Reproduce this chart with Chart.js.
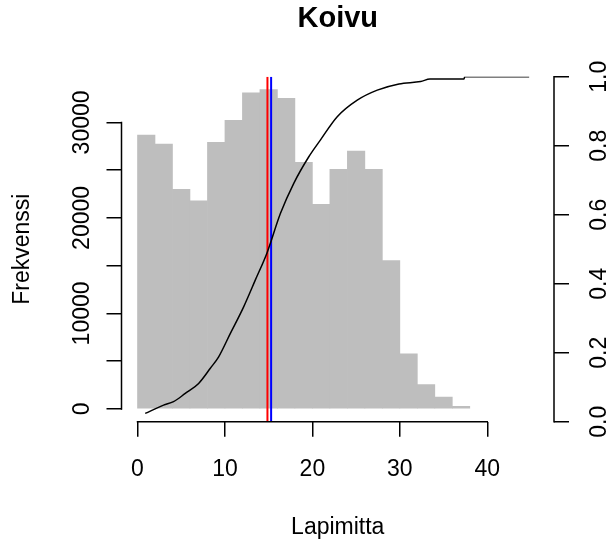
<!DOCTYPE html>
<html>
<head>
<meta charset="utf-8">
<script src="https://cdn.jsdelivr.net/npm/chart.js@4.4.1/dist/chart.umd.min.js"></script>
<style>
  html, body { margin: 0; padding: 0; background: #fff; }
  #wrap { width: 615px; height: 545px; }
</style>
</head>
<body>
<div id="wrap"><canvas id="koivu" width="615" height="545"></canvas></div>
<script>
// histogram: bin left edges (width 2) and counts
const binStart = [0, 2, 4, 6, 8, 10, 12, 14, 16, 18, 20, 22, 24, 26, 28, 30, 32, 34, 36];
const counts = [28670, 27730, 23000, 21800, 27910, 30210, 33090, 33450, 32510, 25820,
                21430, 25090, 27000, 25090, 15530, 5780, 2540, 1250, 270];

// cumulative share curve (right axis)
const cumX = [0.88, 2.98, 4.12, 5.46, 6.99, 8.33, 9.28, 10.62, 12.14, 13.48, 14.82, 16.35,
              17.87, 19.59, 20.93, 22.84, 25.13, 27.42, 29.9, 32.38, 33.45, 37.34, 37.42, 44.79];
const cumY = [0.024, 0.048, 0.058, 0.082, 0.111, 0.155, 0.188, 0.256, 0.333, 0.411, 0.49, 0.604,
              0.691, 0.768, 0.817, 0.884, 0.932, 0.961, 0.979, 0.986, 0.993, 0.993, 1.0, 1.0];

const medianD = 14.86;
const meanD = 15.28;

const xTicks = [0, 10, 20, 30, 40];
const yTicks = [0, 5000, 10000, 15000, 20000, 25000, 30000];
const y2Ticks = [0, 0.2, 0.4, 0.6, 0.8, 1];

Chart.defaults.font.family = "'Liberation Sans', Arial, sans-serif";
Chart.defaults.font.size = 23;
Chart.defaults.color = '#000';

// R style axis lines: only from first to last tick
const rAxes = {
  id: 'rAxes',
  afterDraw(chart) {
    const { ctx, chartArea: a, scales } = chart;
    ctx.save();
    ctx.strokeStyle = '#000';
    ctx.lineWidth = 1.5;
    ctx.lineCap = 'square';
    ctx.beginPath();
    ctx.moveTo(scales.x.getPixelForValue(xTicks[0]), a.bottom);
    ctx.lineTo(scales.x.getPixelForValue(xTicks[xTicks.length - 1]), a.bottom);
    ctx.moveTo(a.left, scales.y.getPixelForValue(yTicks[0]));
    ctx.lineTo(a.left, scales.y.getPixelForValue(yTicks[yTicks.length - 1]));
    ctx.moveTo(a.right, scales.y2.getPixelForValue(y2Ticks[0]));
    ctx.lineTo(a.right, scales.y2.getPixelForValue(y2Ticks[y2Ticks.length - 1]));
    ctx.stroke();
    ctx.restore();
  }
};

const tickGrid = { drawOnChartArea: false, offset: false, color: '#000', lineWidth: 1.5, tickLength: 15 };

new Chart(document.getElementById('koivu'), {
  type: 'bar',
  data: {
    datasets: [
      {
        type: 'line',
        data: cumX.map((x, i) => ({ x: x, y: cumY[i] })),
        yAxisID: 'y2',
        borderColor: '#000',
        borderWidth: 1.5,
        pointRadius: 0,
        cubicInterpolationMode: 'monotone',
        order: 0
      },
      {
        type: 'line',
        data: [{ x: meanD, y: 0 }, { x: meanD, y: 1 }],
        yAxisID: 'y2',
        borderColor: '#0000FF',
        borderWidth: 2,
        pointRadius: 0,
        order: 1
      },
      {
        type: 'line',
        data: [{ x: medianD, y: 0 }, { x: medianD, y: 1 }],
        yAxisID: 'y2',
        borderColor: '#FF0000',
        borderWidth: 2,
        pointRadius: 0,
        order: 2
      },
      {
        type: 'bar',
        data: binStart.map((b, i) => ({ x: b + 1, y: counts[i] })),
        yAxisID: 'y',
        backgroundColor: '#BEBEBE',
        borderWidth: 0,
        barPercentage: 1,
        categoryPercentage: 1,
        order: 3
      }
    ]
  },
  options: {
    responsive: false,
    animation: false,
    layout: { padding: 0 },
    plugins: {
      legend: { display: false },
      tooltip: { enabled: false },
      title: {
        display: true,
        text: 'Koivu',
        fullSize: false,
        color: '#000',
        font: { size: 29, weight: 'bold' },
        padding: { top: 2, bottom: 39.9 }
      }
    },
    scales: {
      x: {
        type: 'linear',
        min: -1.83,
        max: 47.63,
        offset: false,
        border: { display: false },
        grid: tickGrid,
        ticks: { padding: 19.4, maxRotation: 0, autoSkip: false },
        afterBuildTicks: s => { s.ticks = xTicks.map(v => ({ value: v })); },
        afterFit: s => { s.height = 123.3; },
        title: { display: true, text: 'Lapimitta', padding: { top: 0, bottom: 4 } }
      },
      y: {
        position: 'left',
        min: -1338,
        max: 34786,
        border: { display: false },
        grid: tickGrid,
        ticks: {
          minRotation: 90, maxRotation: 90, crossAlign: 'center', padding: -8.5, autoSkip: false,
          callback: v => (v % 10000 === 0 ? String(v) : '')
        },
        afterBuildTicks: s => { s.ticks = yTicks.map(v => ({ value: v })); },
        afterFit: s => { s.width = 121.5; },
        title: { display: true, text: 'Frekvenssi', padding: { top: 9, bottom: 0 } }
      },
      y2: {
        position: 'right',
        min: 0,
        max: 1,
        border: { display: false },
        grid: tickGrid,
        ticks: {
          minRotation: 90, maxRotation: 90, crossAlign: 'center', padding: 15, autoSkip: false,
          callback: v => v.toFixed(1)
        },
        afterBuildTicks: s => { s.ticks = y2Ticks.map(v => ({ value: v })); },
        afterFit: s => { s.width = 61; }
      }
    }
  },
  plugins: [rAxes]
});
</script>
</body>
</html>
